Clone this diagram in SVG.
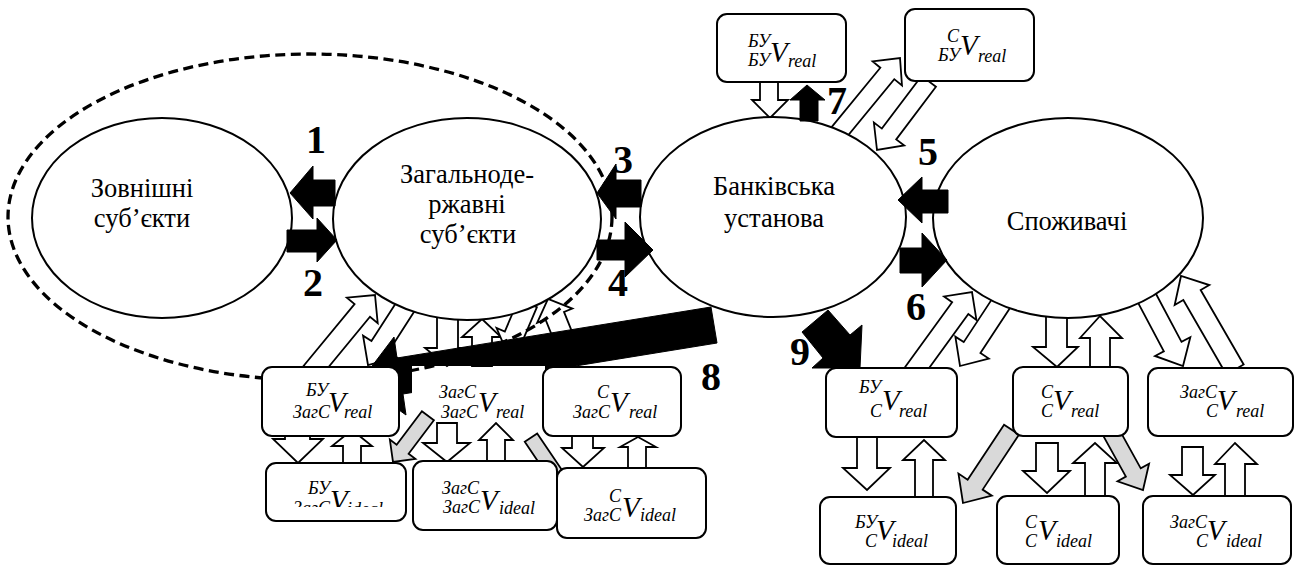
<svg xmlns="http://www.w3.org/2000/svg" width="1295" height="566" viewBox="0 0 1295 566">
<defs>
<style>
.el{fill:#fff;stroke:#000;stroke-width:2}
.wa{fill:#fff;stroke:#000;stroke-width:1.8;stroke-linejoin:miter}
.ba{fill:#000;stroke:#000;stroke-width:1}
.ga{fill:#d9d9d9;stroke:#000;stroke-width:1.8}
.bx{fill:#fff;stroke:#000;stroke-width:2}
.t{font-family:"Liberation Serif","Times New Roman",serif;font-size:26.5px;text-anchor:middle}
.n{font-family:"Liberation Serif","Times New Roman",serif;font-size:40px;font-weight:bold;text-anchor:middle}
.v{font-family:"Liberation Serif","Times New Roman",serif;font-style:italic;font-size:29px}
.s{font-family:"Liberation Serif","Times New Roman",serif;font-style:italic;font-size:18px}
.e{text-anchor:end}
</style>
<clipPath id="c4"><rect x="266" y="463" width="140" height="44"/></clipPath>
<clipPath id="c8"><path clip-rule="evenodd" d="M0 0H1295V566H0Z M412 366H545V425H412Z"/></clipPath>
</defs>

<g id="connectors-under">
<polygon class="wa" points="760,82 760,100 752,100 770,118 788,100 778,100 778,82"/>
<polygon class="wa" points="437,312 437,348 425,348 447,366 470,348 458,348 458,312"/>
<polygon class="wa" points="472,366 472,337 462,337 482,319 501,337 492,337 492,366"/>
<polygon class="wa" points="285,430 285,439 273,439 298,463 323,439 310,439 310,430"/>
<polygon class="wa" points="343,463 343,446 332,446 352,430 372,446 361,446 361,463"/>
<polygon class="wa" points="437,423 437,443 423,443 447,462 470,443 457,443 457,423"/>
<polygon class="wa" points="487,461 487,440 479,440 496,423 513,440 505,440 505,461"/>
<polygon class="wa" points="572,436 572,448 562,448 583,467 604,448 593,448 593,436"/>
<polygon class="wa" points="628,468 628,447 620,447 638,437 656,447 646,447 646,468"/>
<polygon class="wa" points="1046,308 1046,347 1033,347 1057,367 1078,347 1067,347 1067,308"/>
<polygon class="wa" points="1090,367 1090,338 1080,338 1100,316 1122,338 1110,338 1110,367"/>
<polygon class="wa" points="857,437 857,468 843,468 867,490 890,468 877,468 877,437"/>
<polygon class="wa" points="915,497 915,460 903,460 924,440 945,460 933,460 933,497"/>
<polygon class="wa" points="1036,443 1036,471 1023,471 1047,493 1070,471 1058,471 1058,443"/>
<polygon class="wa" points="1085,496 1085,463 1073,463 1095,443 1117,463 1105,463 1105,496"/>
<polygon class="wa" points="1182,447 1182,475 1170,475 1193,495 1215,475 1203,475 1203,447"/>
<polygon class="wa" points="1225,496 1225,464 1215,464 1235,443 1257,464 1245,464 1245,496"/>
<polygon class="wa" transform="translate(900,58) rotate(-50.6)" points="-102,-9 -20,-9 -20,-19 0,0 -20,19 -20,9 -102,9"/>
<polygon class="wa" transform="translate(877,150) rotate(127)" points="-86,-9 -20,-9 -20,-19 0,0 -20,19 -20,9 -86,9"/>
<polygon class="wa" transform="translate(375,295) rotate(-50.5)" points="-100,-10 -20,-10 -20,-20 0,0 -20,20 -20,10 -100,10"/>
<polygon class="wa" transform="translate(368,365) rotate(122.7)" points="-76,-10 -22,-10 -22,-20 0,0 -22,20 -22,10 -76,10"/>
<polygon class="wa" transform="translate(548,299) rotate(-112)" points="-70,-10 -18,-10 -18,-19 0,0 -18,19 -18,10 -70,10"/>
<polygon class="wa" transform="translate(507,352) rotate(113)" points="-53,-10 -18,-10 -18,-19 0,0 -18,19 -18,10 -53,10"/>
<polygon class="wa" transform="translate(972,292) rotate(-54)" points="-100,-10 -20,-10 -20,-20 0,0 -20,20 -20,10 -100,10"/>
<polygon class="wa" transform="translate(960,366) rotate(123.3)" points="-89,-10 -22,-10 -22,-20 0,0 -22,20 -22,10 -89,10"/>
<polygon class="wa" transform="translate(1183,366) rotate(62)" points="-83,-10 -22,-10 -22,-20 0,0 -22,20 -22,10 -83,10"/>
<polygon class="wa" transform="translate(1181,276) rotate(-120)" points="-108,-10 -22,-10 -22,-20 0,0 -22,20 -22,10 -108,10"/>
</g>

<g id="node-zovnishni">
<ellipse class="el" cx="162" cy="218" rx="130" ry="100"/>
<text class="t" x="142" y="197">Зовнішні</text>
<text class="t" x="142" y="227">суб’єкти</text>
</g>
<g id="node-zahalnoderzhavni">
<ellipse class="el" cx="467" cy="219" rx="134" ry="101"/>
<text class="t" x="467" y="183">Загальноде-</text>
<text class="t" x="467" y="213">ржавні</text>
<text class="t" x="468" y="243">суб’єкти</text>
</g>
<g id="node-bank">
<ellipse class="el" cx="773" cy="217" rx="133" ry="100"/>
<text class="t" x="774" y="195">Банківська</text>
<text class="t" x="774" y="227">установа</text>
</g>
<g id="node-spozhyvachi">
<ellipse class="el" cx="1068" cy="218" rx="135" ry="100"/>
<text class="t" x="1067" y="230">Споживачі</text>
</g>

<g id="connectors">
<polygon class="ba" points="335,180 313,180 313,166 290,193 313,219 313,206 335,206"/>
<polygon class="ba" points="287,230 317,230 317,218 337,240 317,262 317,252 287,252"/>
<polygon class="ba" points="641,180 616,180 616,164 597,193 616,219 616,207 641,207"/>
<polygon class="ba" points="597,240 625,240 625,222 653,250 625,277 625,260 597,260"/>
<polygon class="ba" points="948,190 922,190 922,177 898,200 922,223 922,213 948,213"/>
<polygon class="ba" points="900,248 922,248 922,233 947,260 922,287 922,273 900,273"/>
<polygon class="ba" points="800,121 800,100 790,100 807,85 825,100 818,100 818,121"/>
<polygon class="ba" points="828,310 850,335 862,325 860,368 812,368 823,358 802,332"/>
<polygon class="ba" clip-path="url(#c8)" points="711,307 397,358 394,337 360,382 406,415 403,394 717,343"/>
<polygon class="ga" transform="translate(963,503) rotate(123.5)" points="-88,-9 -22,-9 -22,-20 0,0 -22,20 -22,9 -88,9"/>
<polygon class="ga" transform="translate(1143,490) rotate(61)" points="-66,-8.5 -20,-8.5 -20,-18 0,0 -20,18 -20,8.5 -66,8.5"/>
<polygon class="ga" transform="translate(393,462) rotate(127)" points="-58,-7.5 -16,-7.5 -16,-16 0,0 -16,16 -16,7.5 -58,7.5"/>
<polygon class="ga" transform="translate(569,494) rotate(56)" points="-68,-7.5 -15,-7.5 -15,-15 0,0 -15,15 -15,7.5 -68,7.5"/>
</g>

<g id="boundary">
<ellipse cx="310" cy="217" rx="302" ry="163" fill="none" stroke="#000" stroke-width="3.3" stroke-dasharray="10 5.5"/>
</g>

<g id="box-bu-bu-real">
<rect class="bx" x="717" y="14" width="129" height="68" rx="10"/>
<text class="s e" x="770" y="47">БУ</text><text class="s e" x="770" y="66">БУ</text>
<text class="v" x="770" y="62">V</text><text class="s" x="788" y="67">real</text>
</g>
<g id="box-s-bu-real">
<rect class="bx" x="905" y="9" width="129" height="72" rx="10"/>
<text class="s e" x="959" y="42">С</text><text class="s e" x="960" y="61">БУ</text>
<text class="v" x="960" y="55">V</text><text class="s" x="978" y="62">real</text>
</g>
<g id="box-bu-zags-real">
<rect class="bx" x="262" y="367" width="137" height="69" rx="10"/>
<text class="s e" x="328" y="396">БУ</text><text class="s e" x="330" y="418">ЗагС</text>
<text class="v" x="328" y="412">V</text><text class="s" x="344" y="418">real</text>
</g>
<g id="box-zags-zags-real">
<text class="s e" x="476" y="398">ЗагС</text><text class="s e" x="478" y="418">ЗагС</text>
<text class="v" x="478" y="412">V</text><text class="s" x="496" y="418">real</text>
</g>
<g id="box-s-zags-real">
<rect class="bx" x="543" y="367" width="138" height="69" rx="10"/>
<text class="s e" x="609" y="398">С</text><text class="s e" x="610" y="418">ЗагС</text>
<text class="v" x="610" y="412">V</text><text class="s" x="629" y="418">real</text>
</g>
<g id="box-bu-zags-ideal">
<rect class="bx" x="266" y="463" width="140" height="58" rx="10"/>
<g clip-path="url(#c4)">
<text class="s e" x="330" y="494">БУ</text><text class="s e" x="330" y="514">ЗагС</text>
<text class="v" x="330" y="510">V</text><text class="s" x="347" y="515">ideal</text>
</g>
</g>
<g id="box-zags-zags-ideal">
<rect class="bx" x="413" y="461" width="144" height="69" rx="10"/>
<text class="s e" x="479" y="494">ЗагС</text><text class="s e" x="480" y="513">ЗагС</text>
<text class="v" x="480" y="510">V</text><text class="s" x="499" y="514">ideal</text>
</g>
<g id="box-s-zags-ideal">
<rect class="bx" x="557" y="468" width="149" height="70" rx="10"/>
<text class="s e" x="621" y="502">С</text><text class="s e" x="621" y="521">ЗагС</text>
<text class="v" x="622" y="517">V</text><text class="s" x="640" y="521">ideal</text>
</g>
<g id="box-bu-s-real">
<rect class="bx" x="826" y="368" width="131" height="69" rx="10"/>
<text class="s e" x="881" y="393">БУ</text><text class="s e" x="882" y="417">С</text>
<text class="v" x="882" y="410">V</text><text class="s" x="899" y="417">real</text>
</g>
<g id="box-s-s-real">
<rect class="bx" x="1013" y="367" width="115" height="69" rx="10"/>
<text class="s e" x="1053" y="398">С</text><text class="s e" x="1053" y="417">С</text>
<text class="v" x="1053" y="410">V</text><text class="s" x="1071" y="417">real</text>
</g>
<g id="box-zags-s-real">
<rect class="bx" x="1148" y="368" width="145" height="68" rx="10"/>
<text class="s e" x="1217" y="398">ЗагС</text><text class="s e" x="1218" y="417">С</text>
<text class="v" x="1217" y="410">V</text><text class="s" x="1236" y="417">real</text>
</g>
<g id="box-bu-s-ideal">
<rect class="bx" x="820" y="497" width="136" height="67" rx="10"/>
<text class="s e" x="877" y="528">БУ</text><text class="s e" x="877" y="547">С</text>
<text class="v" x="876" y="540">V</text><text class="s" x="892" y="547">ideal</text>
</g>
<g id="box-s-s-ideal">
<rect class="bx" x="997" y="496" width="122" height="68" rx="10"/>
<text class="s e" x="1037" y="528">С</text><text class="s e" x="1037" y="547">С</text>
<text class="v" x="1038" y="540">V</text><text class="s" x="1056" y="547">ideal</text>
</g>
<g id="box-zags-s-ideal">
<rect class="bx" x="1143" y="496" width="148" height="68" rx="10"/>
<text class="s e" x="1207" y="528">ЗагС</text><text class="s e" x="1208" y="547">С</text>
<text class="v" x="1207" y="540">V</text><text class="s" x="1226" y="547">ideal</text>
</g>

<g id="labels">
<text class="n" x="316" y="153">1</text>
<text class="n" x="313" y="296">2</text>
<text class="n" x="623" y="173">3</text>
<text class="n" x="618" y="296">4</text>
<text class="n" x="928" y="165">5</text>
<text class="n" x="916" y="320">6</text>
<text class="n" x="837" y="114">7</text>
<text class="n" x="711" y="390">8</text>
<text class="n" x="800" y="365">9</text>
</g>
</svg>
